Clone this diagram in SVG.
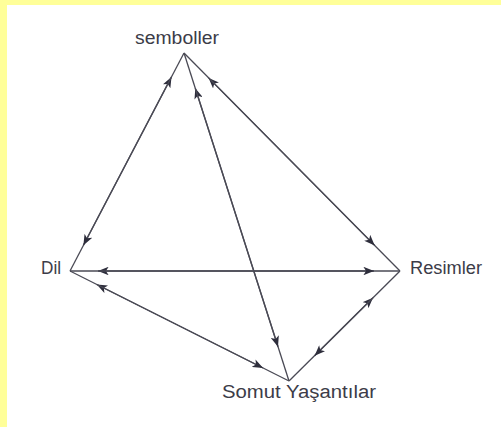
<svg xmlns="http://www.w3.org/2000/svg" width="501" height="427" viewBox="0 0 501 427">
<style>
.lbl{font-family:"Liberation Sans",Arial,sans-serif;font-size:18px;fill:#3c3c48}
.e{fill:none;stroke:#4a4a55;stroke-width:1.3;marker-end:url(#ah)}
</style>
<defs>
<marker id="ah" viewBox="0 0 10 8" refX="10" refY="4" markerWidth="11" markerHeight="8.5" markerUnits="userSpaceOnUse" orient="auto">
<path d="M0,0 L10,4 L0,8 L2.5,4 Z" fill="#2e2e3c"/>
</marker>
</defs>
<rect x="0" y="0" width="501" height="427" fill="#ffffff"/>
<rect x="0" y="0" width="501" height="5" fill="#ffff99"/>
<rect x="0" y="0" width="7" height="427" fill="#ffff99"/>
<g id="connectors">
<path class="e" d="M70,271 L171.5,76.9"/>
<path class="e" d="M184,53 L83.4,245.3"/>
<path class="e" d="M289,381 L195.3,88.2"/>
<path class="e" d="M184,53 L278,346.7"/>
<path class="e" d="M400,271 L208.6,77.9"/>
<path class="e" d="M184,53 L374.7,245.4"/>
<path class="e" d="M400,271 L98,271"/>
<path class="e" d="M70,271 L374,271"/>
<path class="e" d="M289,381 L96.8,284.5"/>
<path class="e" d="M70,271 L263.1,368"/>
<path class="e" d="M289,381 L373,297.7"/>
<path class="e" d="M400,271 L314.6,355.7"/>
</g>
<g id="semboller"><text class="lbl" x="135" y="44" textLength="84" lengthAdjust="spacingAndGlyphs">semboller</text></g>
<g id="dil"><text class="lbl" x="41" y="274" textLength="20" lengthAdjust="spacingAndGlyphs">Dil</text></g>
<g id="resimler"><text class="lbl" x="410" y="274" textLength="72" lengthAdjust="spacingAndGlyphs">Resimler</text></g>
<g id="somut"><text class="lbl" x="222" y="398" textLength="154" lengthAdjust="spacingAndGlyphs">Somut Yaşantılar</text></g>
</svg>
